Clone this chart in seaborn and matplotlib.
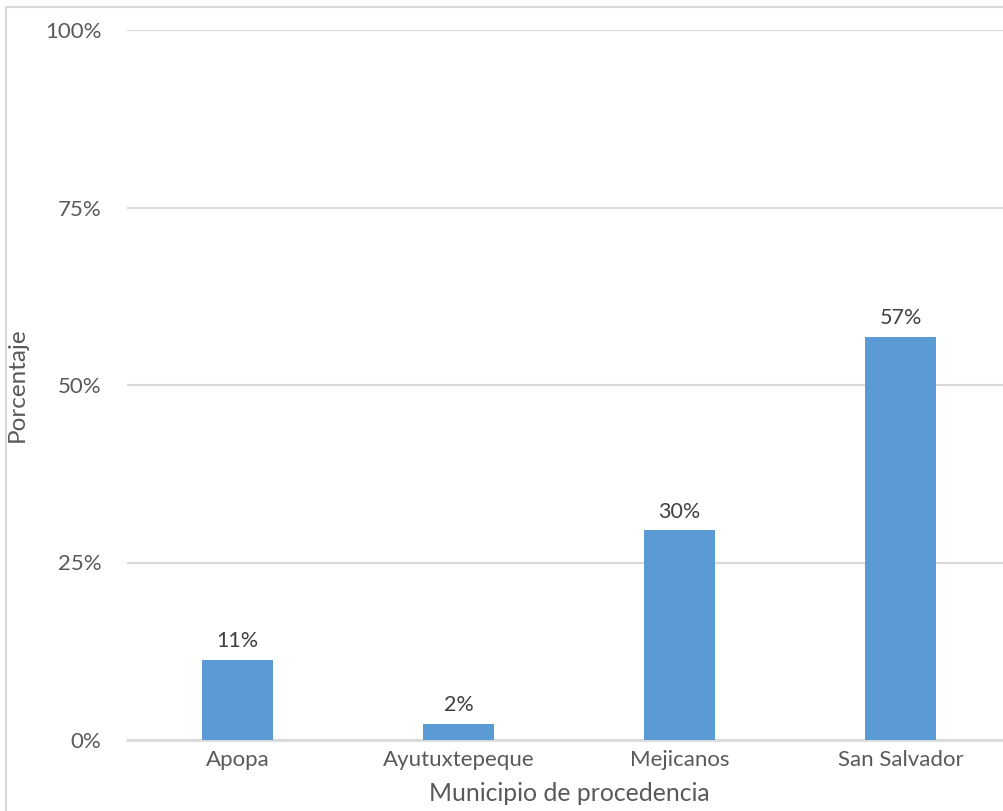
import matplotlib
matplotlib.use("Agg")
import matplotlib.pyplot as plt
from matplotlib.patches import Rectangle
from matplotlib.ticker import FuncFormatter
import seaborn as sns
import pandas as pd

municipios = ["Apopa", "Ayutuxtepeque", "Mejicanos", "San Salvador"]
porcentajes = [11.3, 2.3, 29.6, 56.8]
y_ticks = [0, 25, 50, 75, 100]

df = pd.DataFrame({"Municipio": municipios, "Porcentaje": porcentajes})

sns.set_theme(style="white")
plt.rcParams["font.family"] = ["Lato", "DejaVu Sans"]

fig = plt.figure(figsize=(10.04, 8.11), dpi=100)
ax = fig.add_axes([127 / 1004, 71 / 811, 884 / 1004, 710 / 811])

sns.barplot(data=df, x="Municipio", y="Porcentaje", color="#5B9BD5",
            saturation=1, width=0.317, linewidth=0, edgecolor="none",
            ax=ax, zorder=3)

ax.set_ylim(0, 100)
ax.set_yticks(y_ticks)
ax.yaxis.set_major_formatter(FuncFormatter(lambda v, p: f"{v:.0f}%"))
ax.grid(axis="y", color="#D9D9D9", linewidth=1.5, zorder=0)
ax.set_axisbelow(True)
for s in ax.spines.values():
    s.set_visible(False)
ax.axhline(0, color="#D9D9D9", linewidth=2, zorder=2, clip_on=False)

ax.tick_params(axis="both", length=0, labelsize=16, colors="#595959")
ax.tick_params(axis="y", pad=18.5)
ax.tick_params(axis="x", pad=7)

ax.set_xlabel("Municipio de procedencia", fontsize=17.8, color="#595959", labelpad=9)
ax.set_ylabel("Porcentaje", fontsize=17.5, color="#595959")
ax.yaxis.set_label_coords(-99 / 884, 0.5)

for cont in ax.containers:
    ax.bar_label(cont, labels=[f"{v:.0f}%" for v in porcentajes],
                 padding=6, fontsize=15.5, color="#404040")

# chart frame
fig.patches.append(Rectangle((6 / 1004, -0.1), 1.2, (811 - 7) / 811 + 0.1,
                             transform=fig.transFigure, fill=False,
                             edgecolor="#D9D9D9", linewidth=1.5, zorder=0))

fig.savefig("out.png", dpi=100, facecolor="white")
